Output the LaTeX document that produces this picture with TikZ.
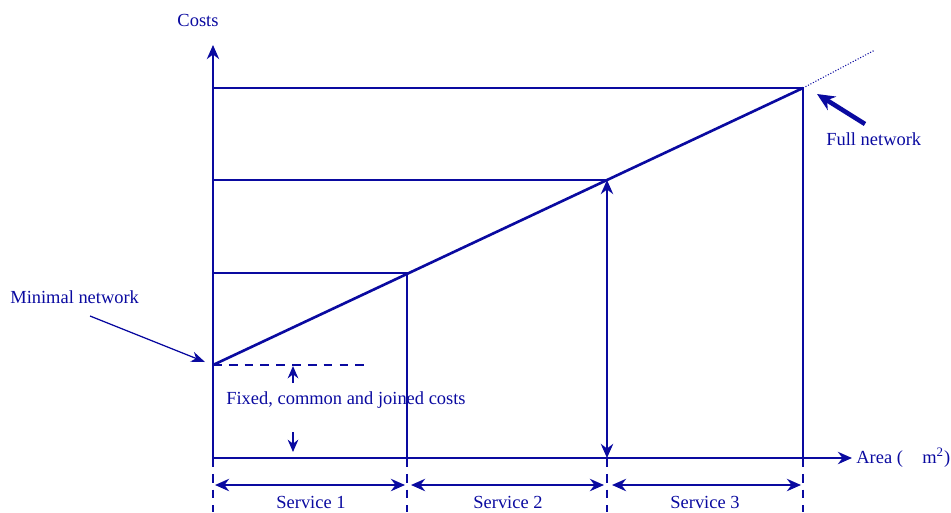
\documentclass[tikz,border=0pt]{standalone}
\usepackage{fontspec}
\setmainfont{Liberation Serif}
\usetikzlibrary{arrows.meta}
\definecolor{ink}{RGB}{10,10,160}
\begin{document}
\begin{tikzpicture}[x=0.02cm,y=-0.02cm,
  line/.style={draw=ink,line width=1.5pt},
  tip/.style={-{Stealth[length=8pt,width=7pt]}},
  twotip/.style={{Stealth[length=8pt,width=7pt]}-{Stealth[length=8pt,width=7pt]}},
  guide/.style={draw=ink,line width=1.6pt,dash pattern=on 5pt off 4pt},
  lbl/.style={text=ink,font=\fontsize{10.5}{12}\selectfont,inner sep=0pt}]
\useasboundingbox (0,0) rectangle (951,512);

% corner points
\coordinate (O) at (213,458);
\coordinate (ytop) at (213,45);
\coordinate (xend) at (852,458);
\coordinate (m) at (213,365);
\coordinate (p1) at (407,273);
\coordinate (p2) at (607,180);
\coordinate (p3) at (803,88);
\coordinate (ext) at (875,50);

% axes
\draw[line,tip] (O) -- (ytop);
\draw[line,tip] (O) -- (xend);
\node[lbl,anchor=south] (costs) at (198,27) {Costs};
\node[lbl,anchor=west] (area) at (856,458) {Area (\hspace{1.05em}m\textsuperscript{2})};

% cost levels
\draw[line] (213,88) -- (p3) -- (803,458);
\draw[line] (213,180) -- (p2);
\draw[line] (213,273) -- (p1) -- (407,458);
\draw[line,twotip] (607,458) -- (p2);

% cost line and its extension
\draw[line] (m) -- (p3);
\draw[ink,line width=0.6pt,densely dotted] (p3) -- (ext);

% full network
\node[lbl,anchor=west] (full) at (826,139) {Full network};
\coordinate (fa) at (865,124);
\draw[ink,line width=2.6pt,-{Stealth[length=10pt,width=9pt]}] (fa) -- (817,94);

% minimal network
\node[lbl,anchor=west] (minimal) at (10,297) {Minimal network};
\coordinate (ma) at (90,316);
\draw[ink,line width=0.7pt,-{Stealth[length=8pt,width=6pt]}] (ma) -- (205,362);

% fixed costs
\draw[guide] (m) -- (370,365);
\node[lbl] (fixed) at (346,400) {Fixed, common and joined costs};
\coordinate (fu) at (293,383);
\coordinate (fd) at (293,432);
\draw[line,-{Stealth[length=7pt,width=6pt]}] (fu) -- (293,366);
\draw[line,-{Stealth[length=7pt,width=6pt]}] (fd) -- (293,452);

% service ranges
\foreach \x in {213,407,607,803} \draw[guide] (\x,458) -- (\x,512);
\draw[line,twotip] (215,485) -- (405,485);
\draw[line,twotip] (411,485) -- (604,485);
\draw[line,twotip] (612,485) -- (801,485);
\node[lbl] (s1) at (311,502) {Service 1};
\node[lbl] (s2) at (508,502) {Service 2};
\node[lbl] (s3) at (705,502) {Service 3};
\end{tikzpicture}
\end{document}
